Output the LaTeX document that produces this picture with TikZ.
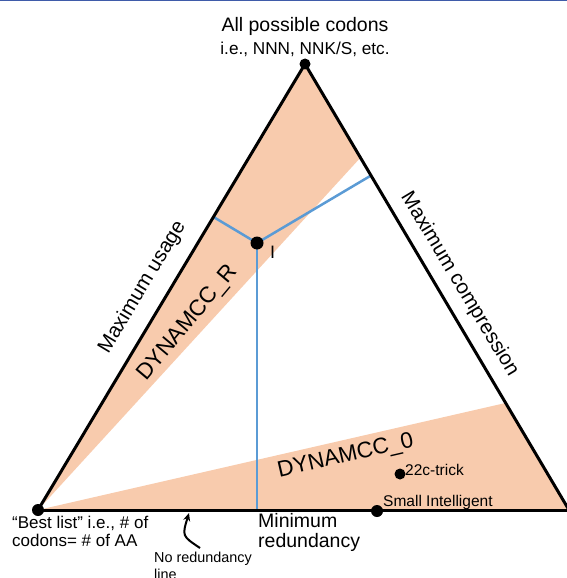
\documentclass[tikz,border=0pt]{standalone}
\usepackage{fontspec}
\setmainfont{Liberation Sans}
\usetikzlibrary{arrows.meta,positioning,calc}
\definecolor{banda}{HTML}{F8CBAD}
\definecolor{linhaazul}{HTML}{5B9BD5}
\definecolor{bordaazul}{HTML}{3F5BA9}
\tikzset{
    vertice/.style={circle, fill=black, inner sep=0pt, minimum size=11pt},
    lado/.style={line width=3pt, line cap=round},
    regiao/.style={fill=banda, draw=none},
    distancia/.style={draw=linhaazul, line width=2.5pt},
    titulo/.style={anchor=base, inner sep=0pt},
    rotulo/.style={anchor=base, inner sep=0pt, font=\fontsize{20.5}{21}\selectfont},
    metodo/.style={anchor=base, inner sep=0pt, font=\fontsize{22.5}{24}\selectfont},
    pequeno/.style={anchor=base west, inner sep=0pt, font=\fontsize{15.5}{17}\selectfont},
    seta/.style={-{Stealth[length=8pt,width=7pt]}, line width=2pt}
}

\begin{document}
\begin{tikzpicture}[x=1pt, y=-1pt]
    \useasboundingbox (0,0) rectangle (567,578);
    \draw[bordaazul, line width=1.5pt] (0,0.75) -- (567,0.75);

    % vertices
    \coordinate (topo) at (305,64);
    \coordinate (esq) at (38,510);
    \coordinate (dir) at (569,510);
    \coordinate (ideal) at (257,243);

    % bands
    \fill[regiao] (esq) -- (topo) -- ($(topo)!0.21!(dir)$) -- cycle;
    \fill[regiao] (esq) -- ($(topo)!0.76!(dir)$) -- (dir) -- cycle;

    % distances from I to the sides
    \draw[distancia] (ideal) -- ($(esq)!(ideal)!(topo)$);
    \draw[distancia] (ideal) -- ($(topo)!(ideal)!(dir)$);
    \draw[distancia] (ideal) -- ($(esq)!(ideal)!(dir)$);

    % triangle
    \draw[lado] (esq) -- (topo) -- (dir);
    \draw[lado] (esq) -- (dir);

    \node[vertice] (ntopo) at (topo) {};
    \node[vertice, minimum size=12pt] (nesq) at (esq) {};
    \node[vertice, minimum size=13pt] (nideal) at (ideal) {};
    \node[vertice, minimum size=12pt] (pequeno) at (377,511) {};
    \node[vertice] (truque) at (400,474) {};

    \node[titulo, font=\fontsize{19.5}{22}\selectfont] (todos) at (305,32)
        {All possible codons};
    \node[titulo, font=\fontsize{17.2}{19}\selectfont] (exemplos) at (305,55)
        {i.e., NNN, NNK/S, etc.};

    \node[rotulo, rotate=59] (usagem) at (147,290) {Maximum usage};
    \node[rotulo, rotate=-59] (compressao) at (455,287) {Maximum compression};
    \node[metodo, rotate=50] (dynr) at (192,327) {DYNAMCC\_R};
    \node[metodo, rotate=13] (dyn0) at (347,462) {DYNAMCC\_0};

    \node[anchor=base west, inner sep=0pt, font=\fontsize{18}{20}\selectfont]
        (rotuloI) at (270,258) {I};
    \node[pequeno] (rotulotruque) at (405,475) {22c-trick};
    \node[pequeno] (rotulopequeno) at (383,506) {Small Intelligent};

    \node[anchor=north west, inner sep=0pt, align=left,
        font=\fontsize{17}{18}\selectfont] (melhor) at (12,516)
        {``Best list'' i.e., \# of\\codons= \# of AA};
    \node[anchor=north west, inner sep=0pt, align=left,
        font=\fontsize{19.5}{20}\selectfont] (minimo) at (258,513)
        {Minimum\\redundancy};
    \node[anchor=north west, inner sep=0pt, align=left,
        font=\fontsize{14.4}{17}\selectfont] (nored) at (154,552)
        {No redundancy\\line};

    \coordinate (pontaseta) at (189,513);
    \draw[seta] ($(nored.north)+(-3,-4)$) .. controls (182,536) .. (pontaseta);
\end{tikzpicture}
\end{document}
